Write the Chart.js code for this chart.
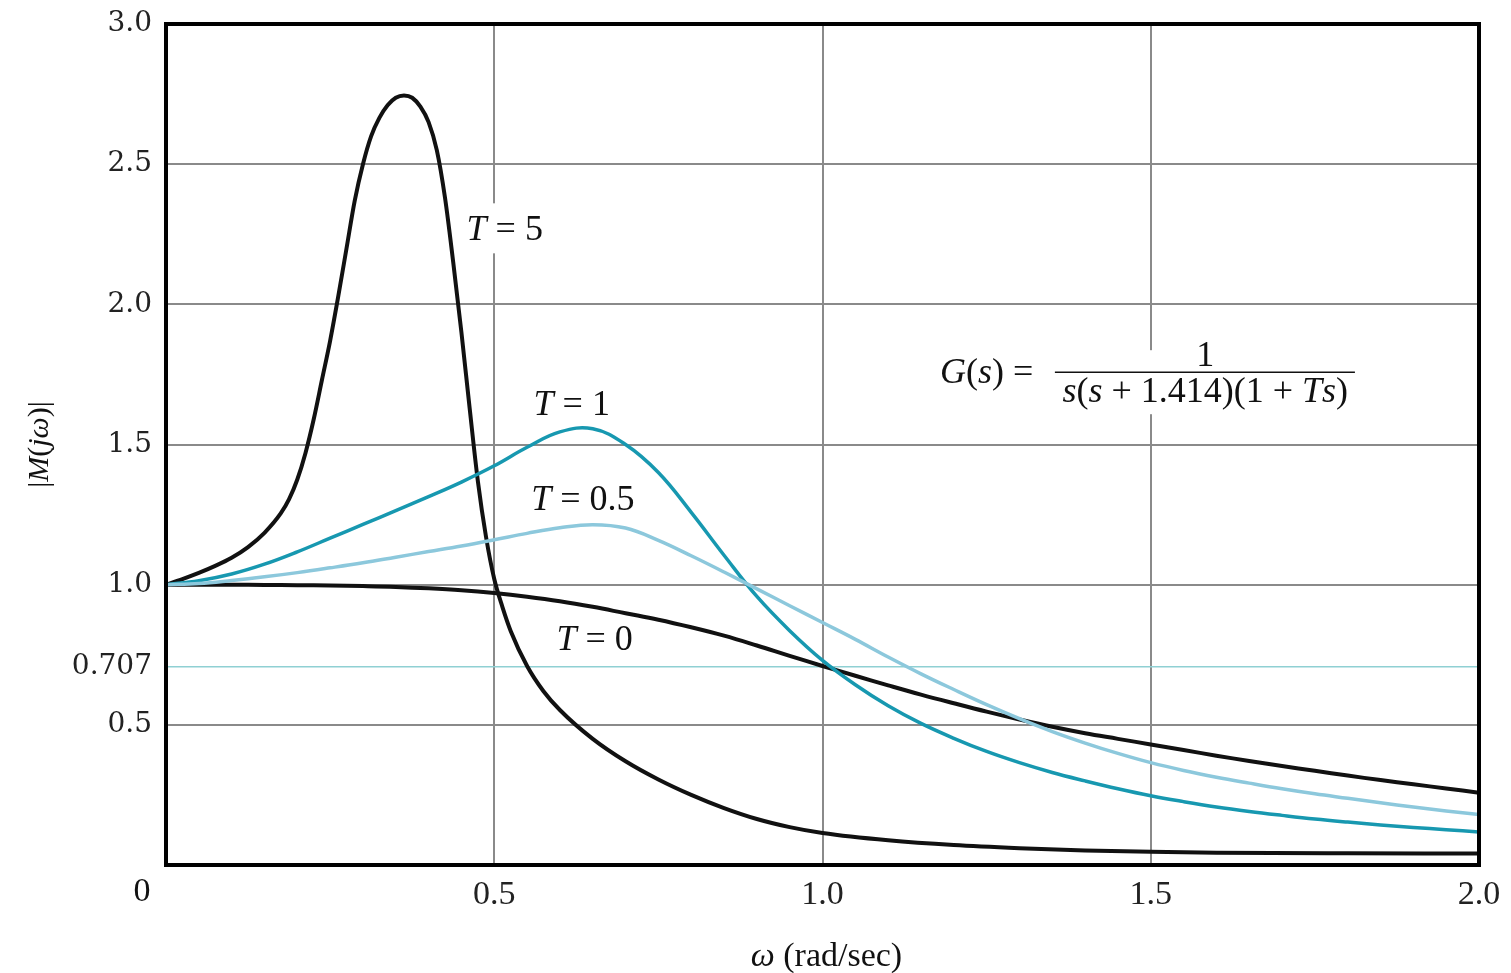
<!DOCTYPE html>
<html lang="en">
<head>
<meta charset="UTF-8" />
<title>|M(jω)| vs ω</title>
<script src="https://cdn.jsdelivr.net/npm/chart.js"></script>
<style>
  html, body { margin: 0; padding: 0; background: #fff; }
  #wrap { width: 1511px; height: 973px; }
</style>
</head>
<body>
<div id="wrap"><canvas id="chart"></canvas></div>
<script>
// frequency grid shared by T = 0, 0.5, 1
const omega = [0, 0.05, 0.1, 0.15, 0.2, 0.25, 0.3, 0.35, 0.4, 0.45, 0.5, 0.55, 0.6, 0.65, 0.7, 0.75, 0.8, 0.85, 0.9, 0.95,
  1.0, 1.05, 1.1, 1.15, 1.2, 1.25, 1.3, 1.35, 1.4, 1.45, 1.5, 1.55, 1.6, 1.65, 1.7, 1.75, 1.8, 1.85, 1.9, 1.95, 2.0];

const magT0 = [1.000, 1.000, 1.000, 0.999, 0.998, 0.997, 0.995, 0.992, 0.987, 0.980, 0.970, 0.957, 0.941, 0.921, 0.898,
  0.875, 0.848, 0.818, 0.783, 0.746, 0.710, 0.675, 0.641, 0.608, 0.577, 0.547, 0.519, 0.493, 0.470, 0.450, 0.430,
  0.410, 0.390, 0.371, 0.353, 0.336, 0.319, 0.303, 0.288, 0.273, 0.258];

const magT05 = [1.000, 1.004, 1.015, 1.028, 1.043, 1.060, 1.078, 1.098, 1.118, 1.138, 1.160, 1.183, 1.203, 1.214, 1.202,
  1.158, 1.103, 1.045, 0.985, 0.925, 0.865, 0.805, 0.742, 0.682, 0.626, 0.572, 0.522, 0.476, 0.435, 0.398, 0.365,
  0.337, 0.313, 0.292, 0.272, 0.254, 0.238, 0.222, 0.207, 0.193, 0.180];

const magT1 = [1.000, 1.014, 1.038, 1.073, 1.117, 1.166, 1.215, 1.264, 1.314, 1.366, 1.424, 1.490, 1.545, 1.556, 1.500,
  1.400, 1.258, 1.105, 0.958, 0.836, 0.730, 0.643, 0.568, 0.505, 0.452, 0.405, 0.365, 0.330, 0.300, 0.272, 0.247,
  0.226, 0.207, 0.191, 0.177, 0.164, 0.153, 0.143, 0.134, 0.126, 0.118];

// T = 5 needs a finer grid around the resonance
const omegaT5 = [0, 0.025, 0.05, 0.075, 0.1, 0.125, 0.15, 0.175, 0.1875, 0.2, 0.2125, 0.225, 0.2375, 0.25, 0.2625,
  0.275, 0.2875, 0.3, 0.3125, 0.325, 0.3375, 0.35, 0.3625, 0.375, 0.3875, 0.4, 0.4125, 0.425, 0.4375, 0.45, 0.4625,
  0.475, 0.4875, 0.5, 0.5125, 0.525, 0.55, 0.575, 0.6, 0.65, 0.7, 0.75, 0.8, 0.85, 0.9, 0.95, 1.0,
  1.1, 1.2, 1.3, 1.4, 1.5, 1.6, 1.8, 2.0];
const magT5 = [1.000, 1.020, 1.042, 1.067, 1.096, 1.134, 1.185, 1.255, 1.305, 1.375, 1.470, 1.590, 1.730, 1.870, 2.030,
  2.200, 2.370, 2.500, 2.600, 2.665, 2.710, 2.737, 2.745, 2.737, 2.705, 2.650, 2.550, 2.380, 2.150, 1.900, 1.630,
  1.370, 1.170, 1.020, 0.920, 0.835, 0.710, 0.620, 0.553, 0.450, 0.370, 0.305, 0.250, 0.203, 0.164, 0.135, 0.114,
  0.088, 0.071, 0.060, 0.052, 0.047, 0.044, 0.042, 0.041];

const xTicks = [0, 0.5, 1.0, 1.5, 2.0];
const xTickLabels = ['0', '0.5', '1.0', '1.5', '2.0'];
const yTicks = [0, 0.5, 0.707, 1.0, 1.5, 2.0, 2.5, 3.0];
const yTickLabels = ['0', '0.5', '0.707', '1.0', '1.5', '2.0', '2.5', '3.0'];

const serif = '"Liberation Serif", "Times New Roman", serif';

function pts(xs, ys) {
  return xs.map((x, i) => ({ x: x, y: ys[i] }));
}

// draw a row of text pieces, some italic; returns width
function textRun(ctx, parts, x, y, size, align) {
  let w = 0;
  parts.forEach(p => {
    ctx.font = (p[1] ? 'italic ' : '') + size + 'px ' + serif;
    w += ctx.measureText(p[0]).width;
  });
  let cx = align === 'left' ? x : x - w / 2;
  ctx.textAlign = 'left';
  ctx.textBaseline = 'middle';
  parts.forEach(p => {
    ctx.font = (p[1] ? 'italic ' : '') + size + 'px ' + serif;
    ctx.fillText(p[0], cx, y);
    cx += ctx.measureText(p[0]).width;
  });
  return w;
}

const annotations = {
  id: 'annotations',
  beforeDatasetsDraw(chart) {
    const ctx = chart.ctx;
    const xs = chart.scales.x, ys = chart.scales.y;
    const px = v => xs.getPixelForValue(v);
    const py = v => ys.getPixelForValue(v);
    ctx.save();
    // white boxes behind labels that sit on grid lines
    ctx.fillStyle = '#fff';
    ctx.fillRect(px(0.5) - 40, py(2.264) - 27, 95, 50);
    ctx.fillRect(px(1.35), py(1.815) - 6, 320, 64);
    ctx.fillStyle = '#111';
    textRun(ctx, [['T', 1], [' = 5', 0]], px(0.516), py(2.264), 36);
    textRun(ctx, [['T', 1], [' = 1', 0]], px(0.618), py(1.640), 36);
    textRun(ctx, [['T', 1], [' = 0.5', 0]], px(0.635), py(1.301), 36);
    textRun(ctx, [['T', 1], [' = 0', 0]], px(0.653), py(0.802), 36);
    // transfer function
    textRun(ctx, [['G', 1], ['(', 0], ['s', 1], [') =', 0]], px(1.179), py(1.754), 36, 'left');
    const fx = px(1.583);
    textRun(ctx, [['1', 0]], fx, py(1.815), 36);
    ctx.strokeStyle = '#111';
    ctx.lineWidth = 1.5;
    ctx.beginPath();
    ctx.moveTo(px(1.354), py(1.758));
    ctx.lineTo(px(1.811), py(1.758));
    ctx.stroke();
    textRun(ctx, [['s', 1], ['(', 0], ['s', 1], [' + 1.414)(1 + ', 0], ['T', 1], ['s', 1], [')', 0]], fx, py(1.686), 36);
    // "0" at the origin
    textRun(ctx, [['0', 0]], px(0) - 24, chart.chartArea.bottom + 27, 34);
    // axis titles
    textRun(ctx, [['ω', 1], [' (rad/sec)', 0]], px(1.006), 957, 34);
    ctx.translate(40, py(1.5));
    ctx.rotate(-Math.PI / 2);
    textRun(ctx, [['|', 0], ['M', 1], ['(', 0], ['jω', 1], [')|', 0]], 0, 0, 30);
    ctx.restore();
  },
  afterDatasetsDraw(chart) {
    const ctx = chart.ctx;
    const a = chart.chartArea;
    ctx.save();
    ctx.strokeStyle = '#000';
    ctx.lineWidth = 4;
    ctx.strokeRect(a.left, a.top, a.right - a.left, a.bottom - a.top);
    ctx.restore();
  }
};

new Chart(document.getElementById('chart'), {
  type: 'line',
  data: {
    datasets: [
      { label: 'T = 0.5', data: pts(omega, magT05), borderColor: '#8cc8dc', borderWidth: 3.5, tension: 0.4 },
      { label: 'T = 1', data: pts(omega, magT1), borderColor: '#1798b0', borderWidth: 3.5, tension: 0.4 },
      { label: 'T = 0', data: pts(omega, magT0), borderColor: '#111', borderWidth: 4, tension: 0.4 },
      { label: 'T = 5', data: pts(omegaT5, magT5), borderColor: '#111', borderWidth: 4, cubicInterpolationMode: 'monotone' }
    ]
  },
  options: {
    responsive: true,
    maintainAspectRatio: false,
    animation: false,
    layout: { padding: { left: 26, right: 32, top: 24, bottom: 0 } },
    elements: {
      point: { radius: 0 },
      line: { fill: false }
    },
    plugins: { legend: { display: false }, tooltip: { enabled: false } },
    scales: {
      x: {
        type: 'linear',
        min: 0,
        max: 2,
        afterBuildTicks: s => { s.ticks = xTicks.map(v => ({ value: v })); },
        afterFit: s => { s.height = 108; s.paddingLeft = 0; s.paddingRight = 0; },
        grid: { color: '#8a8a8a', lineWidth: 2, drawTicks: false },
        border: { color: '#000', width: 4 },
        ticks: {
          padding: 10,
          color: '#222',
          maxRotation: 0,
          autoSkip: false,
          font: { family: serif, size: 34 },
          callback: (v, i) => (i === 0 ? '' : xTickLabels[i])
        }
      },
      y: {
        min: 0,
        max: 3,
        afterBuildTicks: s => { s.ticks = yTicks.map(v => ({ value: v })); },
        afterFit: s => { s.width = 140; s.paddingTop = 0; s.paddingBottom = 0; },
        grid: {
          color: c => (c.tick && c.tick.value === 0.707 ? '#8fd0d3' : '#8a8a8a'),
          lineWidth: c => (c.tick && c.tick.value === 0.707 ? 1.5 : 2),
          drawTicks: false
        },
        border: { color: '#000', width: 4 },
        ticks: {
          padding: 14,
          color: '#222',
          autoSkip: false,
          font: { family: '"DejaVu Serif", serif', size: 28 },
          callback: (v, i) => (i === 0 ? '' : yTickLabels[i])
        }
      }
    }
  },
  plugins: [annotations]
});
</script>
</body>
</html>
